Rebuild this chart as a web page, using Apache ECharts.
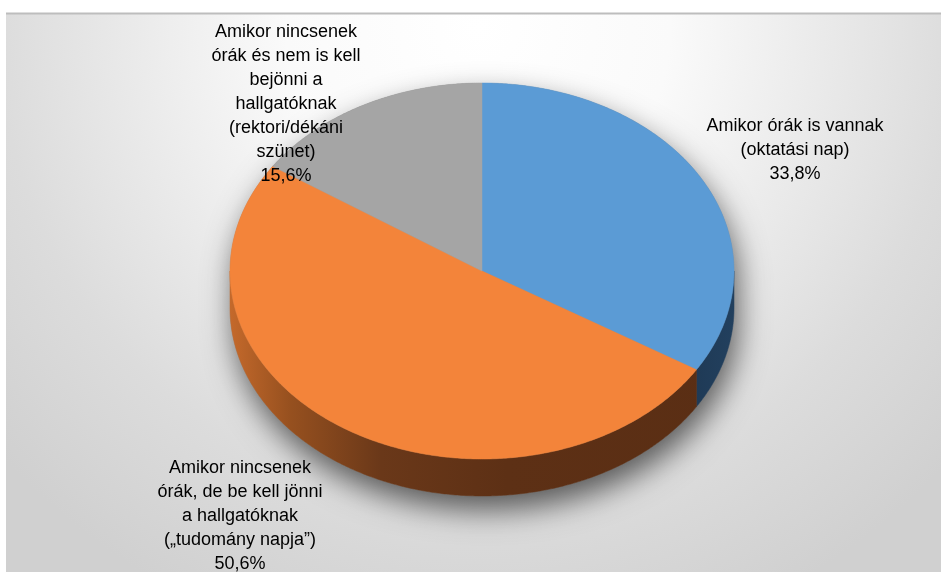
<!DOCTYPE html>
<html>
<head>
<meta charset="utf-8">
<script src="https://cdn.jsdelivr.net/npm/echarts@6/dist/echarts.min.js"></script>
<style>
  html, body { margin: 0; padding: 0; background: #ffffff; }
  #chart { width: 941px; height: 572px; }
</style>
</head>
<body>
<div id="chart"></div>
<script>
// Slice names (line breaks as printed), shares in percent, top-face colours
const categories = [
  'Amikor órák is vannak\n(oktatási nap)',
  'Amikor nincsenek\nórák, de be kell jönni\na hallgatóknak\n(„tudomány napja”)',
  'Amikor nincsenek\nórák és nem is kell\nbejönni a\nhallgatóknak\n(rektori/dékáni\nszünet)'
];
const shares = [33.8, 50.6, 15.6];
const topColors = ['#5B9BD5', '#F3843A', '#A5A5A5'];

// Tilted pie geometry (pixels): ellipse of the top face and thickness of the rim
const PIE = { cx: 482, cy: 271, rx: 252, ry: 188, depth: 37 };
// Centre of each label block
const labelCenters = [[795, 150], [240, 516], [286, 104]];

const FONT = '18px "Liberation Sans", Arial, sans-serif';

// Rim colours: shaded side walls
const wallFills = [
  new echarts.graphic.LinearGradient(PIE.cx + PIE.rx - 40, 0, PIE.cx + PIE.rx, 0, [
    { offset: 0, color: '#1f3a56' }, { offset: 1, color: '#22405e' }
  ], true),
  new echarts.graphic.LinearGradient(PIE.cx - PIE.rx, 0, PIE.cx + PIE.rx, 0, [
    { offset: 0, color: '#c4692b' },
    { offset: 0.12, color: '#96501f' },
    { offset: 0.3, color: '#6a3819' },
    { offset: 0.55, color: '#5d3015' },
    { offset: 1, color: '#5a2e14' }
  ], true),
  '#5e5e5e'
];

// angle measured clockwise from 12 o'clock
function rimPoint(theta, dy) {
  return [PIE.cx + PIE.rx * Math.sin(theta), PIE.cy - PIE.ry * Math.cos(theta) + (dy || 0)];
}
function arc(a0, a1, dy) {
  const pts = [];
  const n = Math.max(2, Math.ceil(Math.abs(a1 - a0) / (Math.PI / 360)));
  for (let k = 0; k <= n; k++) pts.push(rimPoint(a0 + (a1 - a0) * k / n, dy));
  return pts;
}
function pctText(v) {
  return v.toFixed(1).replace('.', ',') + '%';
}

function renderItem(params, api) {
  const i = params.dataIndex;
  const total = shares.reduce((a, b) => a + b, 0);
  let before = 0;
  for (let k = 0; k < i; k++) before += shares[k];
  const value = api.value(0);
  const a0 = before / total * Math.PI * 2;
  const a1 = (before + value) / total * Math.PI * 2;
  const children = [];

  // soft drop shadow under the whole disc (drawn once)
  if (i === 0) {
    const outline = arc(-Math.PI / 2, Math.PI / 2, 0).concat(arc(Math.PI / 2, Math.PI * 1.5, PIE.depth));
    children.push({
      type: 'polygon', z2: 0,
      shape: { points: outline },
      style: { fill: '#8a8a8a', shadowBlur: 30, shadowOffsetY: 14, shadowOffsetX: 4, shadowColor: 'rgba(0,0,0,0.6)' }
    });
  }

  // visible front wall (between 3 and 9 o'clock going through 6)
  const lo = Math.max(a0, Math.PI / 2), hi = Math.min(a1, Math.PI * 1.5);
  if (lo < hi) {
    const wall = arc(lo, hi, 0).concat(arc(hi, lo, PIE.depth));
    children.push({
      type: 'polygon', z2: 1,
      shape: { points: wall },
      style: { fill: wallFills[i], stroke: wallFills[i], lineWidth: 0.5 }
    });
  }

  // top face
  const face = [[PIE.cx, PIE.cy]].concat(arc(a0, a1, 0));
  children.push({
    type: 'polygon', z2: 2,
    shape: { points: face },
    style: { fill: topColors[i], stroke: topColors[i], lineWidth: 0.5 }
  });

  // data label
  children.push({
    type: 'text', z2: 3,
    style: {
      text: categories[i] + '\n' + pctText(value),
      x: labelCenters[i][0], y: labelCenters[i][1],
      align: 'center', verticalAlign: 'middle',
      font: FONT, lineHeight: 24, fill: '#000000'
    }
  });

  return { type: 'group', children };
}

const chart = echarts.init(document.getElementById('chart'), null, { renderer: 'canvas' });
chart.setOption({
  animation: false,
  backgroundColor: '#ffffff',
  graphic: [
    {
      type: 'rect', z: -10, silent: true,
      shape: { x: 6, y: 13, width: 935, height: 559 },
      style: {
        fill: new echarts.graphic.RadialGradient(478, 28, 640, [
          { offset: 0, color: '#ffffff' },
          { offset: 0.3, color: '#fafafa' },
          { offset: 0.75, color: '#dcdcdc' },
          { offset: 1, color: '#d0d0d0' }
        ], true)
      }
    },
    {
      type: 'line', z: -9, silent: true,
      shape: { x1: 6, y1: 13.5, x2: 941, y2: 13.5 },
      style: { stroke: '#bdbdbd', lineWidth: 2 }
    }
  ],
  series: [{
    type: 'custom',
    coordinateSystem: 'none',
    renderItem: renderItem,
    data: shares.map((v, i) => ({ name: categories[i], value: [v] }))
  }]
});
</script>
</body>
</html>
